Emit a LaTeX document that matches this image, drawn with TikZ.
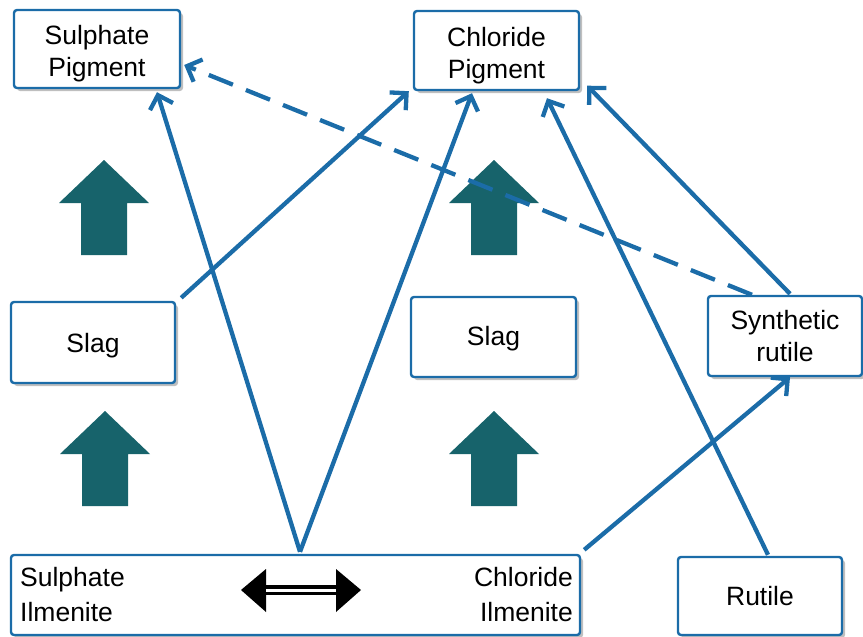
\documentclass[tikz,border=0pt]{standalone}
\usepackage{fontspec}
\setmainfont{Liberation Sans}
\usetikzlibrary{arrows.meta,shadows,calc}
\definecolor{lineblue}{HTML}{1B6CA8}
\definecolor{tealarrow}{HTML}{17636B}
\tikzset{
  box/.style={draw=lineblue, line width=2.4pt, rounded corners=3pt, fill=white,
    inner sep=0pt,
    drop shadow={shadow xshift=3pt, shadow yshift=-3pt, opacity=0.25, fill=black}},
  lbl/.style={inner sep=0pt, align=center, font=\fontsize{26.5}{32}\selectfont},
  conn/.style={draw=lineblue, line width=4.3pt,
    -{Straight Barb[length=12pt,width=24pt,line width=4.3pt]}},
  dconn/.style={conn, dash pattern=on 26pt off 14pt},
  bigup/.pic={\fill[tealarrow] (0,0) -- (45,43) -- (23,43) -- (23,95) -- (-23,95) -- (-23,43) -- (-45,43) -- cycle;}
}
\begin{document}
\begin{tikzpicture}[x=1pt,y=-1pt]
\useasboundingbox (0,0) rectangle (863,637);
% boxes
\node[box, minimum width=166pt, minimum height=78pt] (sp) at (97,49) {};
\node[box, minimum width=165pt, minimum height=79pt] (cp) at (496.5,50.5) {};
\node[box, minimum width=164pt, minimum height=81pt] (slagL) at (93,342.5) {};
\node[box, minimum width=165pt, minimum height=80pt] (slagM) at (493.5,337) {};
\node[box, minimum width=154pt, minimum height=80pt] (synth) at (785,336) {};
\node[box, minimum width=569pt, minimum height=80pt] (bot) at (295.5,595) {};
\node[box, minimum width=164pt, minimum height=78pt] (rutile) at (760,596) {};
% texts
\node[lbl] (spt) at ([yshift=-5pt]sp.center) {Sulphate\\Pigment};
\node[lbl] (cpt) at ([yshift=-5pt]cp.center) {Chloride\\Pigment};
\node[lbl] (slagLt) at ([yshift=-3pt]slagL.center) {Slag};
\node[lbl] (slagMt) at ([yshift=-2pt]slagM.center) {Slag};
\node[lbl] (syntht) at (synth.center) {Synthetic\\rutile};
\node[lbl] (rutilet) at (rutile.center) {Rutile};
\node[lbl, anchor=west, align=left, font=\fontsize{26.5}{35}\selectfont] (si) at (20,595) {Sulphate\\Ilmenite};
\node[lbl, anchor=east, align=right, font=\fontsize{26.5}{35}\selectfont] (ci) at (573,595) {Chloride\\Ilmenite};
% teal arrows
\pic at (104,160) {bigup};
\pic at (105,411) {bigup};
\pic at (494,160) {bigup};
\pic at (494,411) {bigup};
% double arrow
\coordinate (dl) at (241,590);
\coordinate (dr) at (361,590);
\fill[black] (dl) -- (266,569) -- (266,612) -- cycle;
\fill[black] (dr) -- (336,569) -- (336,612) -- cycle;
\draw[black, line width=9.5pt] (265,590) -- (337,590);
\draw[white, line width=3pt] (266,590) -- (336,590);
% connectors
\draw[dconn] ([xshift=-33pt]synth.north) -- ([xshift=3pt,yshift=-16pt]sp.east);
\draw[conn] ([xshift=4.5pt,yshift=2pt]bot.north) -- ([xshift=60pt,yshift=-3pt]sp.south);
\draw[conn] ([xshift=4.5pt,yshift=2pt]bot.north) -- ([xshift=-24.5pt,yshift=-2pt]cp.south);
\draw[conn] ([xshift=5pt,yshift=3pt]slagL.north east) -- ([xshift=-4pt]cp.south west);
\draw[conn] ([xshift=8pt,yshift=1pt]rutile.north) -- ([xshift=50.5pt,yshift=-7pt]cp.south);
\draw[conn] ([xshift=5pt,yshift=1pt]synth.north) -- ([xshift=7pt,yshift=5.5pt]cp.south east);
\draw[conn] ([xshift=3pt,yshift=4pt]bot.north east) -- ([xshift=5pt]synth.south);
\end{tikzpicture}
\end{document}
